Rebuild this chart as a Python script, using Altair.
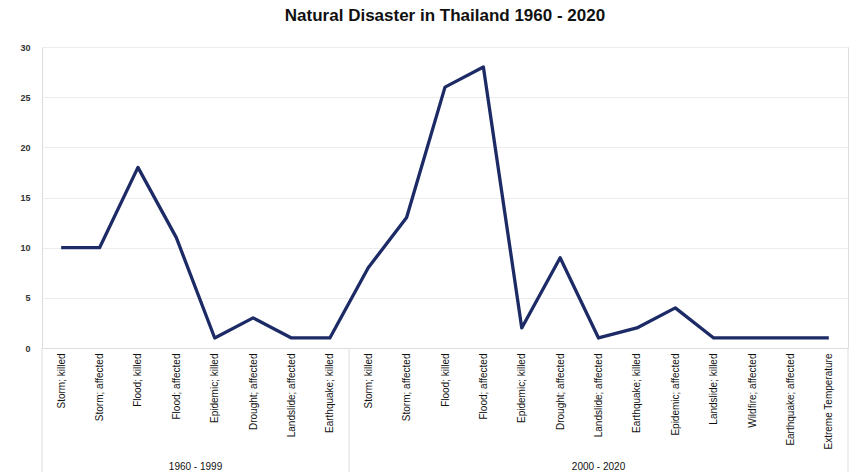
import altair as alt
import pandas as pd

periods = ["1960 - 1999"] * 8 + ["2000 - 2020"] * 13
categories = [
    "Storm; killed", "Storm; affected", "Flood; killed", "Flood; affected",
    "Epidemic; killed", "Drought; affected", "Landslide; affected", "Earthquake; killed",
    "Storm; killed", "Storm; affected", "Flood; killed", "Flood; affected",
    "Epidemic; killed", "Drought; affected", "Landslide; affected", "Earthquake; killed",
    "Epidemic; affected", "Landslide; killed", "Wildfire; affected", "Earthquake; affected",
    "Extreme Temperature",
]
values = [10, 10, 18, 11, 1, 3, 1, 1,
          8, 13, 26, 28, 2, 9, 1, 2, 4, 1, 1, 1, 1]

group_names = ["1960 - 1999", "2000 - 2020"]
group_centers = [4, 14.5]
separators = [0, 8, 21]

keys = [f"{p}|{c}" for p, c in zip(periods, categories)]
df = pd.DataFrame({"key": keys, "value": values})
gdf = pd.DataFrame({"name": group_names, "pos": group_centers})
sdf = pd.DataFrame({"pos": separators})

W, H = 806, 301
FONT = "Liberation Sans"

line = alt.Chart(df).mark_line(color="#1c2b66", strokeWidth=3.3, strokeJoin="round").encode(
    x=alt.X("key:O", sort=keys, title=None,
            scale=alt.Scale(type="point", padding=0.5),
            axis=alt.Axis(labelExpr="split(datum.value, '|')[1]", labelAngle=-90,
                          labelFontSize=10, labelColor="#111", labelFont=FONT,
                          labelPadding=5, ticks=False, domainColor="#dddddd",
                          grid=False, labelLimit=200)),
    y=alt.Y("value:Q", title=None,
            scale=alt.Scale(domain=[0, 30]),
            axis=alt.Axis(values=[0, 5, 10, 15, 20, 25, 30], ticks=False, domain=False,
                          gridColor="#ececec", labelFontSize=9, labelColor="#333",
                          labelFont=FONT, labelPadding=12, labelFontWeight="bold")),
)

qx = alt.Scale(domain=[0, 21], nice=False, zero=False)

rules = alt.Chart(sdf).mark_rule(color="#dddddd", strokeWidth=1).encode(
    x=alt.X("pos:Q", scale=qx, axis=None),
    y=alt.value(H),
    y2=alt.value(H + 124),
)

glabels = alt.Chart(gdf).mark_text(fontSize=10, font=FONT, color="#111", baseline="middle").encode(
    x=alt.X("pos:Q", scale=qx, axis=None),
    y=alt.value(H + 119),
    text="name:N",
)

chart = alt.layer(line, rules, glabels).resolve_scale(x="independent").properties(
    width=W, height=H,
    title=alt.TitleParams("Natural Disaster in Thailand 1960 - 2020", fontSize=17,
                          font=FONT, fontWeight="bold", color="#111", offset=18, anchor="middle"),
    autosize="none",
    padding={"left": 42, "top": 47, "right": 4, "bottom": 128},
).configure_view(stroke=None).configure(background="white")

chart.save("out.html", embed_options={"renderer": "svg", "actions": False})
